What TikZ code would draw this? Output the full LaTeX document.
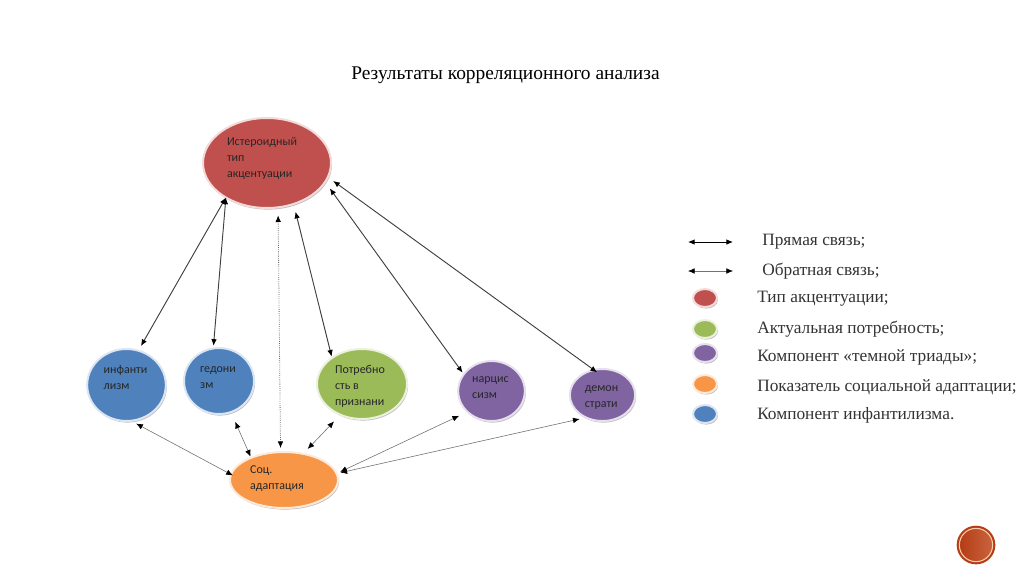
\documentclass[tikz,border=0pt]{standalone}
\usepackage{fontspec}
\usepackage{xcolor}
\setmainfont{Liberation Serif}
\newfontfamily\bubblefont{Carlito}
\usetikzlibrary{shapes.geometric,shadows,arrows.meta}

\definecolor{accred}{HTML}{C0504D}
\definecolor{needgreen}{HTML}{9BBB59}
\definecolor{triadpurple}{HTML}{8064A2}
\definecolor{adaptorange}{HTML}{F79646}
\definecolor{infantblue}{HTML}{4F81BD}
\definecolor{badgered}{HTML}{B53C14}
\definecolor{badgelight}{HTML}{C9643F}
\definecolor{badgering}{HTML}{FACDAA}

\tikzset{
	bubble/.style={ellipse, inner sep=0pt, outer sep=0pt, line width=1.5pt,
		drop shadow={shadow xshift=0.8pt, shadow yshift=-1.2pt, fill=black!35, opacity=0.7}},
	bubbletext/.style={font=\bubblefont\fontsize{9}{12}\selectfont, align=left, inner sep=0pt, text=black!85},
	strong/.style={<->, draw=black!75, line width=0.7pt},
	weak/.style={<->, draw=black!55, line width=0.45pt},
	inverse/.style={<->, draw=black!60, line width=0.6pt, densely dotted},
	legendtext/.style={anchor=west, inner sep=0pt, font=\fontsize{13}{15}\selectfont, text=black!80},
	keydot/.style={bubble, minimum width=18pt, minimum height=13.5pt}
}

\begin{document}
\begin{tikzpicture}[x=0.75pt, y=-0.75pt, >={Latex[length=5pt,width=4.2pt,black]}]
	\useasboundingbox (0,0) rectangle (1024,576);

	%title
	\node[inner sep=0pt, font=\fontsize{14.55}{16}\selectfont] (title) at (505.5,75) {Результаты корреляционного анализа};

	%draw bubbles
	\node[bubble, fill=accred, draw=accred!20, minimum width=96pt, minimum height=67.5pt,
		label={[bubbletext, shift={(-5,-5)}]center:Истероидный\\тип\\акцентуации}] (hyst) at (267,163) {};
	\node[bubble, fill=infantblue, draw=infantblue!20, minimum width=59pt, minimum height=54pt,
		label={[bubbletext, shift={(-1,-8)}]center:инфанти\\лизм}] (infant) at (126.5,385) {};
	\node[bubble, fill=infantblue, draw=infantblue!20, minimum width=52.5pt, minimum height=49.5pt,
		label={[bubbletext, shift={(-1,-3)}]center:гедони\\зм}] (hedon) at (219,381) {};
	\node[bubble, fill=needgreen, draw=needgreen!20, minimum width=67.5pt, minimum height=52.5pt,
		label={[bubbletext, shift={(-2,2)}]center:Потребно\\сть в\\признани}] (need) at (362,384) {};
	\node[bubble, fill=triadpurple, draw=triadpurple!20, minimum width=50pt, minimum height=45pt,
		label={[bubbletext, shift={(-1,-3)}]center:нарцис\\сизм}] (narc) at (491.5,391) {};
	\node[bubble, fill=triadpurple, draw=triadpurple!20, minimum width=49pt, minimum height=39pt,
		label={[bubbletext, shift={(-1,3)}]center:демон\\страти}] (demon) at (602.5,395) {};
	\node[bubble, fill=adaptorange, draw=adaptorange!20, minimum width=81pt, minimum height=42pt,
		label={[bubbletext, shift={(-7,-1)}]center:Соц.\\адаптация}] (adapt) at (284,480) {};

	%links to the top bubble
	\draw[strong, shorten >=4pt] (hyst.220) -- (infant.71);
	\draw[strong, shorten >=2pt] (hyst.220) -- (hedon.100);
	\draw[strong, shorten <=6pt, shorten >=1pt] (hyst.303) -- (need.139);
	\draw[inverse, shorten <=6pt, shorten >=3pt] (hyst.284) -- (adapt.97);
	\draw[strong, shorten <=6pt, shorten >=1.5pt] (hyst.342) -- (narc.149);
	\draw[strong, shorten <=5pt, shorten >=-3pt] (hyst.347) -- (demon.109);

	%links to the bottom bubble
	\draw[weak, shorten <=4.5pt, shorten >=-1.5pt] (infant.277) -- (adapt.174);
	\draw[weak, shorten <=8pt, shorten >=1pt] (hedon.291) -- (adapt.146);
	\draw[weak, shorten <=7pt, shorten >=5pt] (need.235) -- (adapt.54);
	\draw[weak, shorten <=7pt, shorten >=3pt] (narc.221) -- (adapt.7);
	\draw[weak, shorten <=5pt, shorten >=3pt] (demon.234) -- (adapt.7);

	%legend
	\coordinate (directL) at (688,242);
	\coordinate (directR) at (733,242);
	\coordinate (inverseL) at (688,271);
	\coordinate (inverseR) at (733,271);
	\draw[strong, draw=black] (directL) -- (directR);
	\draw[weak] (inverseL) -- (inverseR);

	\node[keydot, fill=accred, draw=accred!20] (keyred) at (705,298) {};
	\node[keydot, fill=needgreen, draw=needgreen!20] (keygreen) at (705,329) {};
	\node[keydot, fill=triadpurple, draw=triadpurple!20] (keypurple) at (705,353) {};
	\node[keydot, fill=adaptorange, draw=adaptorange!20] (keyorange) at (705,384) {};
	\node[keydot, fill=infantblue, draw=infantblue!20] (keyblue) at (705,414) {};

	\node[legendtext] (directtext) at (762,242) {Прямая связь;};
	\node[legendtext] (inversetext) at (762,271) {Обратная связь;};
	\node[legendtext] (redtext) at (757,299) {Тип акцентуации;};
	\node[legendtext] (greentext) at (757,329) {Актуальная потребность;};
	\node[legendtext] (purpletext) at (757,357) {Компонент «темной триады»;};
	\node[legendtext] (orangetext) at (757,387) {Показатель социальной адаптации;};
	\node[legendtext] (bluetext) at (757,415) {Компонент инфантилизма.};

	%corner badge
	\node[circle, minimum size=29pt, inner sep=0pt, fill=badgered] (badgerim) at (976,545) {};
	\node[circle, minimum size=25pt, inner sep=0pt, draw=badgering, line width=0.8pt,
		left color=badgered, right color=badgelight] (badge) at (976,545) {};
\end{tikzpicture}
\end{document}
